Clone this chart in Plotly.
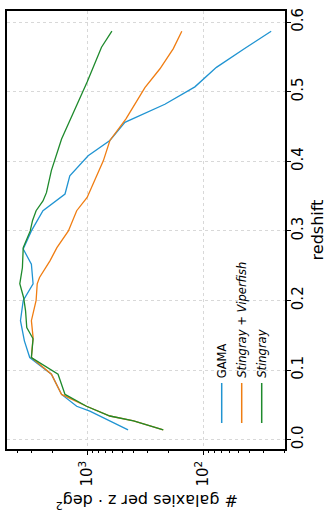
import plotly.graph_objects as go

# ---- data ----
gama_z = [0.014, 0.041, 0.048, 0.065, 0.094, 0.118, 0.142, 0.171, 0.200, 0.224, 0.252,
          0.274, 0.300, 0.329, 0.353, 0.379, 0.408, 0.430, 0.456, 0.482, 0.507, 0.535,
          0.562, 0.587]
gama_n = [444, 948, 1230, 1660, 2030, 3120, 3470, 3750, 3550, 2920, 3020,
          3550, 3020, 2400, 1550, 1410, 980, 637, 473, 214, 118, 77,
          44, 26]

sv_z = [0.014, 0.027, 0.034, 0.048, 0.065, 0.094, 0.118, 0.147, 0.171, 0.200, 0.224,
        0.233, 0.257, 0.276, 0.300, 0.329, 0.348, 0.377, 0.401, 0.430, 0.461, 0.506,
        0.533, 0.562, 0.587]
sv_n = [221, 398, 637, 1012, 1660, 2030, 3020, 2920, 3020, 2750, 2690,
        2570, 2090, 1820, 1450, 1230, 1000, 832, 724, 637, 463, 318,
        236, 181, 153]

st_z = [0.014, 0.027, 0.034, 0.048, 0.065, 0.094, 0.118, 0.145, 0.161, 0.185, 0.204,
        0.224, 0.247, 0.276, 0.300, 0.315, 0.329, 0.343, 0.355, 0.387, 0.432, 0.514,
        0.564, 0.587]
st_n = [221, 398, 637, 1012, 1550, 1780, 3020, 2920, 3310, 3390, 3520,
        3800, 3610, 3550, 3090, 2950, 2750, 2400, 2240, 2030, 1660, 1000,
        752, 612]

series_names = ["GAMA", "<i>Stingray</i> + <i>Viperfish</i>", "<i>Stingray</i>"]
series_colors = ["#2094d2", "#f07d12", "#1e8a2c"]

x_tickvals = [100, 1000]
x_ticktext = ["10<sup>2</sup>", "10<sup>3</sup>"]
x_minor = [20, 30, 40, 50, 60, 70, 80, 90, 200, 300, 400, 500, 600, 700, 800, 900,
           2000, 3000, 4000]

# ---- layout geometry (pixels) ----
W, H = 328, 511
L, R, T, B = 7, 285, 11, 449


def px(xp):
    return (xp - L) / (R - L)


def py(yp):
    return (B - yp) / (B - T)


fig = go.Figure()
for z, n, name, col in zip([gama_z, sv_z, st_z], [gama_n, sv_n, st_n],
                           series_names, series_colors):
    fig.add_trace(go.Scatter(x=n, y=z, mode="lines", name=name,
                             line=dict(color=col, width=1.3), showlegend=False))

font = "DejaVu Sans"
fig.update_layout(
    template="none",
    width=W, height=H,
    margin=dict(l=L, r=W - R, t=T, b=H - B, pad=0, autoexpand=False),
    paper_bgcolor="white", plot_bgcolor="white",
    font=dict(family=font, color="black", size=15),
    xaxis=dict(type="log", range=[3.69, 1.296], automargin=False,
               tickvals=x_tickvals, ticktext=x_ticktext, tickangle=-90,
               ticks="outside", ticklen=4, tickwidth=1, tickcolor="black",
               minor=dict(tickvals=x_minor, ticks="outside", ticklen=2,
                          tickcolor="black", showgrid=False),
               showline=True, linecolor="black", linewidth=1.5, mirror=True,
               showgrid=True, gridcolor="#d8d8d8", griddash="dot", gridwidth=1,
               zeroline=False, tickfont=dict(size=15)),
    yaxis=dict(side="right", range=[-0.0134, 0.616], dtick=0.1, tick0=0,
               automargin=False,
               tickformat=".1f", tickangle=-90,
               ticks="outside", ticklen=4, tickwidth=1, tickcolor="black",
               ticklabelstandoff=-6,
               showline=True, linecolor="black", linewidth=1.5, mirror=True,
               showgrid=True, gridcolor="#d8d8d8", griddash="dot", gridwidth=1,
               zeroline=False, tickfont=dict(size=15),
               title=dict(text="redshift", font=dict(size=16), standoff=6)),
)

# upside-down x-axis title
fig.add_annotation(text="# galaxies per z · deg<sup>2</sup>", textangle=180,
                   xref="paper", yref="paper", x=px(147), y=py(501),
                   xanchor="center", yanchor="middle", showarrow=False,
                   font=dict(size=16))

# rotated legend
leg_x = [221.7, 241.7, 261.7]
for xp, name, col in zip(leg_x, series_names, series_colors):
    fig.add_shape(type="line", xref="paper", yref="paper",
                  x0=px(xp), x1=px(xp), y0=py(383), y1=py(423),
                  line=dict(color=col, width=1.5))
    fig.add_annotation(text=name, textangle=-90, xref="paper", yref="paper",
                       x=px(xp), y=py(380), xanchor="center", yanchor="bottom",
                       showarrow=False, font=dict(size=11.5))

fig.write_html("out.html", config={"displayModeBar": False},
               post_script="document.body.style.margin='0';"
                           "document.body.style.overflow='hidden';")
